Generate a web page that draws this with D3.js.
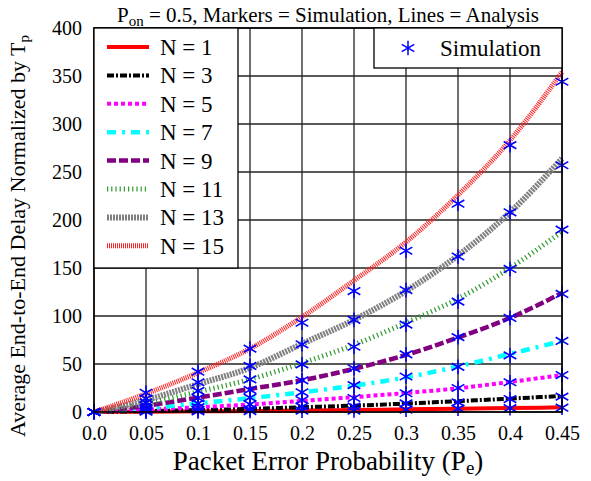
<!DOCTYPE html>
<html>
<head>
<meta charset="utf-8">
<script src="https://cdn.jsdelivr.net/npm/d3@7"></script>
<style>
  body { margin: 0; background: #fff; }
  svg { display: block; font-family: "Liberation Serif", "Times New Roman", serif; }
  svg text { font-family: "Liberation Serif", "Times New Roman", serif; }
</style>
</head>
<body>
<svg id="chart" width="591" height="481"></svg>
<script>
// packet error probability (x)
const pe = [0, 0.05, 0.1, 0.15, 0.2, 0.25, 0.3, 0.35, 0.4, 0.45];
const xTickLabels = ['0.0', '0.05', '0.1', '0.15', '0.2', '0.25', '0.3', '0.35', '0.4', '0.45'];
const yTicks = [0, 50, 100, 150, 200, 250, 300, 350, 400];

const nodes = [1, 3, 5, 7, 9, 11, 13, 15];

// analysis curves, one array per N
const analysisN1 = [0, 0.3, 0.7, 1.1, 1.6, 2.1, 2.8, 3.4, 4.1, 4.9];
const analysisN3 = [0, 1, 2, 3.2, 5, 6.6, 8.8, 11.3, 13.9, 16.7];
const analysisN5 = [0, 2.5, 5, 7.8, 11.5, 15.5, 19.8, 24.7, 31.3, 38.5];
const analysisN7 = [0, 4, 9, 14.5, 20.5, 27.5, 36, 47.5, 60.5, 74];
const analysisN9 = [0, 6.5, 15, 24, 33, 45, 59.5, 77.5, 98, 124];
const analysisN11 = [0, 9, 21, 34, 51, 70, 93, 118, 150, 188];
const analysisN13 = [0, 12.5, 29, 46, 71, 96, 126, 163, 208, 264];
const analysisN15 = [0, 19, 41, 66, 99, 137, 177, 226, 283, 354];

// simulation markers, one array per N
const simN1 = [0, 0.3, 0.5, 1, 1.4, 1.5, 2.5, 3.5, 4, 4.5];
const simN3 = [0, 1, 2, 3, 5.6, 5.6, 9, 10, 13.5, 16];
const simN5 = [0, 2.2, 5, 8, 12.5, 14.6, 19.5, 25, 31, 38.5];
const simN7 = [0, 4, 9, 15, 20.5, 28, 37, 47, 59, 74];
const simN9 = [0, 6.5, 14.5, 23, 33, 45.5, 60, 78, 98, 123];
const simN11 = [0, 10, 22, 34, 49.6, 68, 91, 115, 149, 190];
const simN13 = [0, 14, 31, 48, 70.5, 96, 127, 162, 208, 257];
const simN15 = [0, 20, 42, 66, 93, 126, 168, 217, 278, 344];

const analysis = [analysisN1, analysisN3, analysisN5, analysisN7, analysisN9, analysisN11, analysisN13, analysisN15];
const simulation = [simN1, simN3, simN5, simN7, simN9, simN11, simN13, simN15];

const styles = [
    { color: '#ff0000', width: 4, dash: null },
    { color: '#000000', width: 4, dash: '7,2,2,2' },
    { color: '#ff00ff', width: 4, dash: '4,3' },
    { color: '#00ffff', width: 4.5, dash: '9,6,3,6' },
    { color: '#800080', width: 4.5, dash: '9,3' },
    { color: '#2e9a2e', width: 5, dash: '1.2,3' },
    { color: '#808080', width: 6, dash: '2,1' },
    { color: '#ff2020', width: 5, dash: '1,1' }
];

const FONT = '"Liberation Serif", "Times New Roman", serif';

const svg = d3.select('#chart');
const margin = { left: 94, right: 29, top: 28, bottom: 69 };
const width = 591 - margin.left - margin.right;
const height = 481 - margin.top - margin.bottom;

const x = d3.scaleLinear().domain([0, 0.45]).range([0, width]);
const y = d3.scaleLinear().domain([0, 400]).range([height, 0]);

const g = svg.append('g').attr('transform', `translate(${margin.left},${margin.top})`);

// grid
g.append('g')
    .selectAll('line')
    .data(pe)
    .enter()
    .append('line')
    .attr('x1', d => x(d)).attr('x2', d => x(d))
    .attr('y1', 0).attr('y2', height)
    .attr('stroke', '#222').attr('stroke-width', 1.3);

g.append('g')
    .selectAll('line')
    .data(yTicks)
    .enter()
    .append('line')
    .attr('x1', 0).attr('x2', width)
    .attr('y1', d => y(d)).attr('y2', d => y(d))
    .attr('stroke', '#222').attr('stroke-width', 1.3);

// axes labels
const xAxis = d3.axisBottom(x)
    .tickValues(pe)
    .tickFormat((d, i) => xTickLabels[i])
    .tickSize(0)
    .tickPadding(14);
const xg = g.append('g').attr('transform', `translate(0,${height})`).call(xAxis);
xg.attr('font-family', FONT);
xg.select('.domain').remove();
xg.selectAll('text').attr('font-size', 20).attr('fill', '#000');

const yAxis = d3.axisLeft(y).tickValues(yTicks).tickSize(0).tickPadding(12);
const yg = g.append('g').call(yAxis);
yg.attr('font-family', FONT);
yg.select('.domain').remove();
yg.selectAll('text').attr('font-size', 20).attr('fill', '#000');

// analysis lines
const line = d3.line()
    .x((d, i) => x(pe[i]))
    .y(d => y(d))
    .curve(d3.curveMonotoneX);

g.append('g')
    .selectAll('path')
    .data(analysis)
    .enter()
    .append('path')
    .attr('d', line)
    .attr('fill', 'none')
    .attr('stroke', (d, i) => styles[i].color)
    .attr('stroke-width', (d, i) => styles[i].width)
    .attr('stroke-dasharray', (d, i) => styles[i].dash);

// simulation markers
const star = d3.symbol().type(d3.symbolAsterisk).size(150);
const markers = [];
simulation.forEach(s => s.forEach((v, i) => markers.push([pe[i], v])));

g.append('g')
    .selectAll('path')
    .data(markers)
    .enter()
    .append('path')
    .attr('d', star)
    .attr('transform', d => `translate(${x(d[0])},${y(d[1])})`)
    .attr('fill', 'none')
    .attr('stroke', '#0000ff')
    .attr('stroke-width', 1.6);

// frame
g.append('rect')
    .attr('width', width).attr('height', height)
    .attr('fill', 'none').attr('stroke', '#000').attr('stroke-width', 1.5);

// left legend
const legend = g.append('g').attr('font-family', FONT);
legend.append('rect')
    .attr('x', 0).attr('y', 0).attr('width', 144).attr('height', 240)
    .attr('fill', '#fff').attr('stroke', '#000').attr('stroke-width', 1.3);

const rows = legend.selectAll('g.row')
    .data(nodes)
    .enter()
    .append('g')
    .attr('class', 'row')
    .attr('transform', (d, i) => `translate(0,${19 + i * 28.4})`);

rows.append('line')
    .attr('x1', 13).attr('x2', 55).attr('y1', 0).attr('y2', 0)
    .attr('stroke', (d, i) => styles[i].color)
    .attr('stroke-width', (d, i) => styles[i].width)
    .attr('stroke-dasharray', (d, i) => styles[i].dash);

rows.append('text')
    .attr('x', 66).attr('y', 8)
    .attr('font-size', 23)
    .text(d => `N = ${d}`);

// right legend
const legend2 = g.append('g').attr('font-family', FONT).attr('transform', `translate(${width - 188},0)`);
legend2.append('rect')
    .attr('width', 188).attr('height', 40)
    .attr('fill', '#fff').attr('stroke', '#000').attr('stroke-width', 1.3);
legend2.append('path')
    .attr('d', star)
    .attr('transform', 'translate(34,20)')
    .attr('fill', 'none').attr('stroke', '#0000ff').attr('stroke-width', 1.5);
legend2.append('text')
    .attr('x', 66).attr('y', 28)
    .attr('font-size', 23)
    .text('Simulation');

// title
const title = svg.append('text')
    .attr('x', 328).attr('y', 22)
    .attr('text-anchor', 'middle')
    .attr('font-family', FONT)
    .attr('font-size', 21);
title.append('tspan').text('P');
title.append('tspan').attr('font-size', 15).attr('dy', 4).text('on');
title.append('tspan').attr('dy', -4).text(' = 0.5, Markers = Simulation, Lines = Analysis');

// x title
const xt = svg.append('text')
    .attr('x', 328).attr('y', 470)
    .attr('text-anchor', 'middle')
    .attr('font-family', FONT)
    .attr('font-size', 27);
xt.append('tspan').text('Packet Error Probability (P');
xt.append('tspan').attr('font-size', 19).attr('dy', 4).text('e');
xt.append('tspan').attr('dy', -4).text(')');

// y title
const yt = svg.append('text')
    .attr('transform', 'translate(25,236) rotate(-90)')
    .attr('text-anchor', 'middle')
    .attr('font-family', FONT)
    .attr('font-size', 22);
yt.append('tspan').text('Average End-to-End Delay Normalized by T');
yt.append('tspan').attr('font-size', 15).attr('dy', 4).text('p');
</script>
</body>
</html>
